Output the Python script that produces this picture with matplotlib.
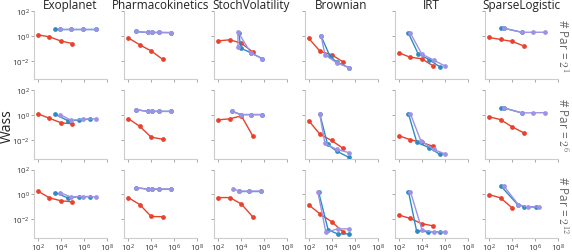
import numpy as np
import matplotlib
matplotlib.use("Agg")
from matplotlib import pyplot as plt

plt.rcParams['font.family'] = ['Open Sans', 'DejaVu Sans']
plt.rcParams['mathtext.fontset'] = 'cm'

models = ["Exoplanet", "Pharmacokinetics", "StochVolatility", "Brownian", "IRT", "SparseLogistic"]
par_exp = ["1", "6", "12"]

# values are log10 of (grad evals, Wass), one list per row
red_x = [2, 3, 4, 5]

exo_red_y = [[0.08, -0.08, -0.42, -0.62], [0.1, -0.26, -0.62, -0.7], [0.26, -0.28, -0.52, -0.6]]
exo_blue_x = [[3.5, 3.94, 4.87, 5.94, 7.02], [3.5, 4.58, 5.54, 6.55], [3.5, 4.58, 5.54, 6.55]]
exo_blue_y = [[0.53, 0.53, 0.53, 0.53, 0.53], [0.06, -0.44, -0.42, -0.3], [0.14, -0.28, -0.18, -0.18]]
exo_purp_x = [[3.94, 4.87, 5.94, 7.02], [3.94, 4.87, 5.94, 7.02], [3.94, 4.87, 5.94, 7.02]]
exo_purp_y = [[0.53, 0.53, 0.53, 0.53], [0.04, -0.42, -0.34, -0.3], [0.14, -0.22, -0.18, -0.2]]

pk_red_y = [[-0.16, -0.72, -1.22, -1.89], [-0.28, -0.9, -1.78, -1.94], [-0.26, -0.82, -1.78, -1.8]]
pk_blue_x = [[2.64, 3.69, 4.03, 4.69, 5.73]] * 3
pk_blue_y = [[0.35, 0.27, 0.27, 0.27, 0.26], [0.44, 0.3, 0.3, 0.3, 0.3], [0.54, 0.42, 0.42, 0.42, 0.42]]
pk_purp_x = [[2.64, 3.69, 4.03, 4.69, 5.73]] * 3
pk_purp_y = [[0.35, 0.27, 0.27, 0.27, 0.26], [0.44, 0.3, 0.3, 0.3, 0.3], [0.54, 0.42, 0.42, 0.42, 0.42]]

sv_red_y = [[-0.4, -0.32, -0.59, -1.31], [-0.38, -0.3, -0.06, -1.7], [-0.26, -0.26, -0.78, -1.82]]
sv_blue_x = [[3.79, 3.94, 4.81, 5.82], [3.21, 3.94, 4.81, 5.82], [3.79, 4.66, 5.68]]
sv_blue_y = [[0.19, -0.99, -1.36, -1.84], [0.3, 0.04, 0.04, 0.04], [0.26, 0.26, 0.26]]
sv_purp_x = [[3.7, 3.7, 4.81, 5.82], [3.21, 3.94, 4.81, 5.82], [3.27, 3.79, 4.66, 5.68]]
sv_purp_y = [[-0.91, 0.32, -1.36, -1.84], [0.3, 0.04, 0.04, 0.04], [0.46, 0.26, 0.26, 0.26]]

br_red_y = [[-0.19, -1.25, -1.52, -2.1], [-0.44, -1.56, -2.04, -2.68], [-0.84, -1.58, -2.2, -3.02]]
br_blue_x = [[3.1, 3.85, 4.43, 5.5], [2.96, 3.65, 4.43, 5.5], [2.87, 3.7, 4.52, 5.5]]
br_blue_y = [[-0.05, -1.63, -2.1, -2.56], [0.12, -2.36, -2.9, -3.4], [0.18, -2.86, -3.18, -3.18]]
br_purp_x = [[3.1, 3.42, 4.43, 5.5], [2.96, 3.42, 4.43, 5.5], [2.81, 3.5, 4.52, 5.5]]
br_purp_y = [[-0.05, -1.52, -2.16, -2.56], [0.12, -2.28, -2.76, -3.02], [0.18, -3.06, -2.78, -2.78]]

irt_red_y = [[-1.36, -1.73, -1.84, -2.43], [-1.66, -1.98, -2.2, -2.52], [-1.66, -1.94, -2.36, -2.54]]
irt_blue_x = [[2.84, 3.68, 4.64, 5.54], [2.84, 3.57, 4.64, 5.54], [2.84, 3.54, 4.55, 5.54]]
irt_blue_y = [[0.21, -1.44, -1.92, -2.48], [0.1, -2.2, -2.62, -3.14], [0.22, -2.92, -3.02, -3.02]]
irt_purp_x = [[3.01, 4.0, 5.02, 6.06], [3.01, 3.91, 5.02, 6.06], [3.01, 4.03, 5.02, 6.06]]
irt_purp_y = [[0.21, -1.47, -1.95, -2.45], [0.1, -2.06, -2.76, -3.14], [0.22, -2.9, -3.02, -3.02]]

sl_red_x = [[2, 3, 4, 5], [2, 3, 4, 5], [2, 3, 4]]
sl_red_y = [[-0.13, -0.29, -0.45, -0.8], [-0.14, -0.36, -0.94, -1.42], [-0.02, -0.28, -1.08]]
sl_blue_x = [[3.02, 3.28, 4.84], [3.02, 3.28, 4.84], [3.02, 4.49, 5.07, 6.06]]
sl_blue_y = [[0.61, 0.61, 0.29], [0.58, 0.58, 0.18], [0.68, -0.82, -1.0, -1.02]]
sl_purp_x = [[3.28, 4.84, 5.85, 6.87], [3.28, 4.84, 5.85, 6.87], [3.28, 4.56, 5.36, 6.39]]
sl_purp_y = [[0.61, 0.29, 0.29, 0.29], [0.58, 0.18, 0.18, 0.2], [0.68, -0.84, -1.0, -1.02]]

RED, BLUE, PURPLE = "#e8412c", "#2f8ac4", "#9c93e6"

panels = [
    ([red_x] * 3, exo_red_y, exo_blue_x, exo_blue_y, exo_purp_x, exo_purp_y),
    ([red_x] * 3, pk_red_y, pk_blue_x, pk_blue_y, pk_purp_x, pk_purp_y),
    ([red_x] * 3, sv_red_y, sv_blue_x, sv_blue_y, sv_purp_x, sv_purp_y),
    ([red_x] * 3, br_red_y, br_blue_x, br_blue_y, br_purp_x, br_purp_y),
    ([red_x] * 3, irt_red_y, irt_blue_x, irt_blue_y, irt_purp_x, irt_purp_y),
    (sl_red_x, sl_red_y, sl_blue_x, sl_blue_y, sl_purp_x, sl_purp_y),
]

fig, axes = plt.subplots(3, 6, figsize=(5.72, 2.53), dpi=100, sharex=True, sharey=True)
fig.subplots_adjust(left=0.0594, right=0.9755, top=0.9526, bottom=0.056,
                    wspace=0.236, hspace=0.16)

def p(v):
    return 10.0 ** np.array(v)

for c, (rx, ry, bx, by, px, py) in enumerate(panels):
    for r in range(3):
        ax = axes[r, c]
        ax.plot(p(rx[r]), p(ry[r]), "-o", color=RED, lw=1, ms=2.4)
        ax.plot(p(bx[r]), p(by[r]), "-o", color=BLUE, lw=1, ms=2.4)
        ax.plot(p(px[r]), p(py[r]), "-o", color=PURPLE, lw=1, ms=2.4)
        ax.set_xscale("log")
        ax.set_yscale("log")
        for s in ["top", "right"]:
            ax.spines[s].set_visible(False)
        for s in ["left", "bottom"]:
            ax.spines[s].set_color("#cccccc")
            ax.spines[s].set_linewidth(0.8)
        ax.tick_params(which="both", length=2, width=0.6, color="#999999",
                       labelsize=5.8, labelcolor="#333333", pad=1)
        if r == 0:
            ax.set_title(models[c], fontsize=8.5, color="#222222", pad=2)
    axes[0, c].set_xticks([1e2, 1e4, 1e6, 1e8])

axes[0, 0].set_yticks([1e-2, 1e0, 1e2])
axes[0, 0].set_xlim(10 ** 1.65, 1e8)
axes[0, 0].set_ylim(10 ** -3.5, 1e2)
for ax in axes.flat:
    ax.minorticks_off()

for r in range(3):
    bb = axes[r, -1].get_position()
    fig.text(0.984, (bb.y0 + bb.y1) / 2, "# Par = $2^{%s}$" % par_exp[r],
             rotation=270, ha="center", va="center", fontsize=8.5, color="#666666")

fig.text(0.012, 0.5, "Wass", rotation=90, ha="center", va="center", fontsize=10, color="#222222")

fig.savefig("out.png", dpi=100)
